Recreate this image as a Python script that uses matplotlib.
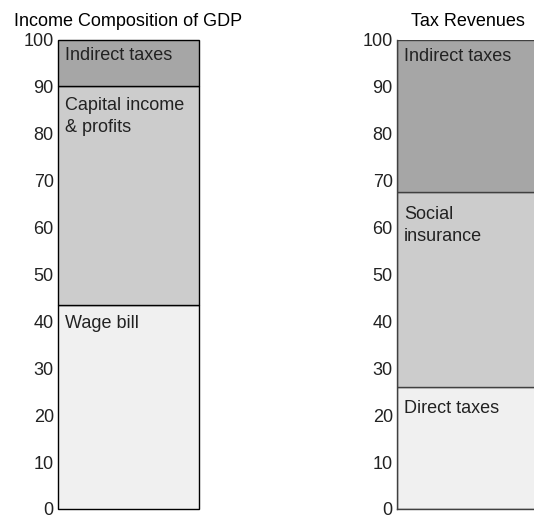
import matplotlib
matplotlib.use('Agg')
import matplotlib.pyplot as plt

plt.rcParams['font.family'] = ['Liberation Sans', 'DejaVu Sans']

# left panel: income composition of GDP (percent, bottom to top)
gdp_labels = ['Wage bill', 'Capital income\n& profits', 'Indirect taxes']
gdp_shares = [43.5, 46.7, 9.8]

# right panel: tax revenues (percent, bottom to top)
tax_labels = ['Direct taxes', 'Social\ninsurance', 'Indirect taxes']
tax_shares = [26.0, 41.5, 32.5]

yticks = [0, 10, 20, 30, 40, 50, 60, 70, 80, 90, 100]
colors = ['#f0f0f0', '#cccccc', '#a6a6a6']
FS = 13


def draw_stack(ax, labels, shares, title, edge, offsets, clip):
    bottom = 0
    for lab, val, col, off in zip(labels, shares, colors, offsets):
        bars = ax.bar(0, val, bottom=bottom, width=1.0, color=col, edgecolor=edge,
                      linewidth=1.0, clip_on=clip)
        top = bottom + val
        ax.annotate(lab, xy=(-0.5, top), xytext=(5, -off), textcoords='offset points',
                    ha='left', va='top', fontsize=FS, color='#222222', linespacing=1.4)
        bottom = top
    ax.set_xlim(-0.5, 0.5)
    ax.set_ylim(0, 100)
    ax.set_yticks(yticks)
    ax.set_xticks([])
    ax.tick_params(axis='y', length=0, pad=3, labelsize=FS, labelcolor='#222222')
    for s in ax.spines.values():
        s.set_visible(False)
    ax.set_title(title, fontsize=FS, pad=10)


fig = plt.figure(figsize=(5.34, 5.19), dpi=100)
ax1 = fig.add_axes([0.1086, 0.0193, 0.264, 0.9037])
ax2 = fig.add_axes([0.7434, 0.0193, 0.264, 0.9037])

draw_stack(ax1, gdp_labels, gdp_shares, 'Income Composition of GDP', 'black', [7, 8, 5], False)
draw_stack(ax2, tax_labels, tax_shares, 'Tax Revenues', '#404040', [9.5, 10, 6], True)
# the right bar runs off the edge of the picture: keep its left and bottom edge whole
ax2.axvline(-0.5, color='#404040', lw=1.0, clip_on=False)
ax2.axhline(0, color='#404040', lw=1.0, clip_on=False)

fig.savefig('out.png', dpi=100)
